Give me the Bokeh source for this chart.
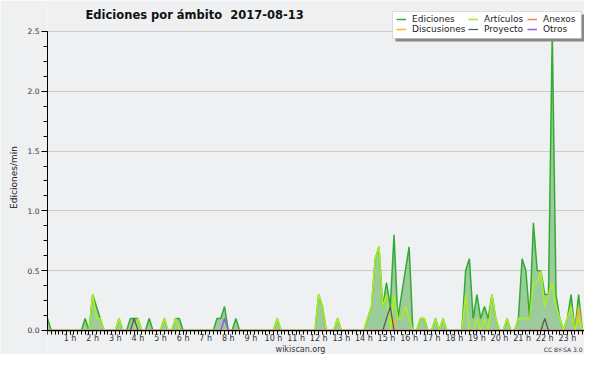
from bokeh.plotting import figure
from bokeh.models import (Range1d, FixedTicker, Legend, LegendItem, Label,
                          PrintfTickFormatter, BoxAnnotation)
from bokeh.embed import file_html
from bokeh.resources import INLINE

# ---- data (edits per minute, 10-minute bins, 2017-08-13) ----
hours = list(range(24))
hour_labels = ["", "1 h", "2 h", "3 h", "4 h", "5 h", "6 h", "7 h", "8 h", "9 h",
               "10 h", "11 h", "12 h", "13 h", "14 h", "15 h", "16 h", "17 h",
               "18 h", "19 h", "20 h", "21 h", "22 h", "23 h"]
y_ticks = [0.0, 0.5, 1.0, 1.5, 2.0, 2.5]

ediciones = [
    0.1, 0, 0, 0, 0, 0,          # 0 h
    0, 0, 0, 0, 0.1, 0,          # 1 h
    0.3, 0.2, 0.1, 0, 0, 0,      # 2 h
    0, 0.1, 0, 0, 0.1, 0.1,      # 3 h
    0.1, 0, 0, 0.1, 0, 0,        # 4 h
    0, 0.1, 0, 0, 0.1, 0.1,      # 5 h
    0, 0, 0, 0, 0, 0,            # 6 h
    0, 0, 0, 0.1, 0.1, 0.2,      # 7 h
    0, 0, 0.1, 0, 0, 0,          # 8 h
    0, 0, 0, 0, 0, 0,            # 9 h
    0, 0.1, 0, 0, 0, 0,          # 10 h
    0, 0, 0, 0, 0, 0,            # 11 h
    0.3, 0.2, 0, 0, 0, 0.1,      # 12 h
    0, 0, 0, 0, 0, 0,            # 13 h
    0, 0.1, 0.2, 0.6, 0.7, 0.2,  # 14 h
    0.4, 0.2, 0.8, 0.1, 0.3, 0.5,  # 15 h
    0.7, 0, 0, 0.1, 0.1, 0,      # 16 h
    0, 0.1, 0, 0.1, 0, 0,        # 17 h
    0, 0, 0, 0.5, 0.6, 0.1,      # 18 h
    0.3, 0.1, 0.2, 0.1, 0.3, 0.1,  # 19 h
    0, 0, 0.1, 0, 0, 0.1,        # 20 h
    0.6, 0.5, 0.1, 0.9, 0.5, 0.5,  # 21 h
    0.3, 0.3, 2.5, 0.3, 0.1, 0,  # 22 h
    0.1, 0.3, 0, 0.3, 0, 0,      # 23 h
]
articulos = [
    0, 0, 0, 0, 0, 0,
    0, 0, 0, 0, 0, 0,
    0.3, 0.1, 0.1, 0, 0, 0,
    0, 0.1, 0, 0, 0, 0,
    0.1, 0, 0, 0, 0, 0,
    0, 0.1, 0, 0, 0.1, 0,
    0, 0, 0, 0, 0, 0,
    0, 0, 0, 0, 0, 0,
    0, 0, 0, 0, 0, 0,
    0, 0, 0, 0, 0, 0,
    0, 0.1, 0, 0, 0, 0,
    0, 0, 0, 0, 0, 0,
    0.3, 0.2, 0, 0, 0, 0.1,
    0, 0, 0, 0, 0, 0,
    0, 0.1, 0.2, 0.6, 0.7, 0.2,
    0.3, 0, 0.3, 0.1, 0.1, 0.2,
    0.1, 0, 0, 0.1, 0.1, 0,
    0, 0.1, 0, 0.1, 0, 0,
    0, 0, 0, 0.3, 0, 0,
    0.1, 0, 0.1, 0, 0.3, 0.1,
    0, 0, 0.1, 0, 0, 0.1,
    0.1, 0.1, 0.1, 0.4, 0.4, 0.5,
    0.2, 0.3, 0.4, 0.2, 0.1, 0,
    0.1, 0.2, 0, 0.1, 0, 0,
]
anexos = [0] * 144
discusiones = [
    0, 0, 0, 0, 0, 0,  0, 0, 0, 0, 0, 0,  0, 0, 0, 0, 0, 0,  0, 0, 0, 0, 0, 0,
    0, 0, 0, 0, 0, 0,  0, 0, 0, 0, 0, 0,  0, 0, 0, 0, 0, 0,  0, 0, 0, 0, 0, 0,
    0, 0, 0, 0, 0, 0,  0, 0, 0, 0, 0, 0,  0, 0, 0, 0, 0, 0,  0, 0, 0, 0, 0, 0,
    0, 0, 0, 0, 0, 0,  0, 0, 0, 0, 0, 0,  0, 0, 0, 0, 0, 0,  0, 0, 0.1, 0, 0, 0,
    0, 0, 0, 0, 0, 0,  0, 0, 0, 0, 0, 0,  0, 0, 0, 0, 0, 0,  0, 0, 0, 0, 0, 0,
    0, 0, 0, 0, 0, 0,  0, 0, 0, 0, 0, 0,  0, 0, 0, 0, 0, 0,  0, 0, 0, 0.2, 0, 0,
]
proyecto = [
    0, 0, 0, 0, 0, 0,  0, 0, 0, 0, 0, 0,  0, 0, 0, 0, 0, 0,  0, 0, 0, 0, 0, 0.1,
    0, 0, 0, 0, 0, 0,  0, 0, 0, 0, 0, 0,  0, 0, 0, 0, 0, 0,  0, 0, 0, 0, 0, 0,
    0, 0, 0, 0, 0, 0,  0, 0, 0, 0, 0, 0,  0, 0, 0, 0, 0, 0,  0, 0, 0, 0, 0, 0,
    0, 0, 0, 0, 0, 0,  0, 0, 0, 0, 0, 0,  0, 0, 0, 0, 0, 0,  0.1, 0.2, 0, 0, 0, 0,
    0, 0, 0, 0, 0, 0,  0, 0, 0, 0, 0, 0,  0, 0, 0, 0, 0, 0,  0, 0, 0, 0, 0, 0,
    0, 0, 0, 0, 0, 0,  0, 0, 0, 0, 0, 0,  0.1, 0, 0, 0, 0, 0,  0, 0, 0, 0, 0, 0,
]
otros = [
    0, 0, 0, 0, 0, 0,  0, 0, 0, 0, 0, 0,  0, 0, 0, 0, 0, 0,  0, 0, 0, 0, 0, 0,
    0, 0, 0, 0, 0, 0,  0, 0, 0, 0, 0, 0,  0, 0, 0, 0, 0, 0,  0, 0, 0, 0, 0, 0.1,
    0, 0, 0, 0, 0, 0,  0, 0, 0, 0, 0, 0,  0, 0, 0, 0, 0, 0,  0, 0, 0, 0, 0, 0,
    0, 0, 0, 0, 0, 0,  0, 0, 0, 0, 0, 0,  0, 0, 0, 0, 0, 0,  0, 0, 0, 0, 0, 0,
    0, 0, 0, 0, 0, 0,  0, 0, 0, 0, 0, 0,  0, 0, 0, 0, 0, 0,  0, 0, 0, 0, 0, 0,
    0, 0, 0, 0, 0, 0,  0, 0, 0, 0, 0, 0,  0, 0, 0, 0, 0, 0,  0, 0, 0, 0, 0, 0,
]
bin_minutes = [10 * i for i in range(144)]
t = [m / 60 for m in bin_minutes]

FONT = "DejaVu Sans"
BG = "#eff0f1"

# frame fills the canvas vertically; y=2.5 sits at 31px and y=0 at 330px
W, H = 584, 354
p = figure(width=W, height=H, output_backend="svg", toolbar_location=None,
           tools="", title=None,
           x_range=Range1d(0, 23.76), y_range=Range1d(-0.2007, 2.7592),
           min_border_left=47, min_border_right=0, min_border_top=0,
           min_border_bottom=0,
           background_fill_color=BG, border_fill_color=BG)
p.outline_line_color = None

# area + lines
p.varea(x=t, y1=[0] * len(t), y2=ediciones, fill_color="#9ccc9c", fill_alpha=1.0)
r_ed = p.line(t, ediciones, line_color="#33aa33", line_width=1.5)
r_an = p.line(t, anexos, line_color="#f08050", line_width=1.5)
r_di = p.line(t, discusiones, line_color="#f2b82a", line_width=1.5)
r_ar = p.line(t, articulos, line_color="#aaee22", line_width=1.5)
r_pr = p.line(t, proyecto, line_color="#555555", line_width=1.2)
r_ot = p.line(t, otros, line_color="#9955ee", line_width=1.5)

# axes
p.xgrid.visible = False
p.ygrid.grid_line_color = "#cccccc"
p.xaxis.fixed_location = 0
p.xaxis.ticker = FixedTicker(ticks=hours, minor_ticks=t)
p.xaxis.major_label_overrides = {h: lab for h, lab in zip(hours, hour_labels)}
p.yaxis.bounds = (0, 2.5)
p.yaxis.ticker = FixedTicker(ticks=y_ticks,
                             minor_ticks=[k * 0.125 for k in range(21)])
p.yaxis.formatter = PrintfTickFormatter(format="%.1f")
for ax in (p.xaxis[0], p.yaxis[0]):
    ax.axis_line_color = "black"
    ax.major_tick_line_color = "black"
    ax.minor_tick_line_color = "black"
    ax.major_tick_in = 0
    ax.minor_tick_in = 0
    ax.major_label_text_font = FONT
    ax.major_label_text_color = "#333333"
p.xaxis.major_tick_out = 4
p.xaxis.minor_tick_out = 4
p.xaxis.major_label_standoff = 0
p.xaxis.major_label_text_font_size = "8px"
p.yaxis.major_tick_out = 6
p.yaxis.minor_tick_out = 4
p.yaxis.major_label_standoff = 2
p.yaxis.major_label_text_font_size = "7.5px"
p.yaxis.axis_label = "Ediciones/min"
p.yaxis.axis_label_text_font = FONT
p.yaxis.axis_label_text_font_size = "9px"
p.yaxis.axis_label_text_font_style = "normal"
p.yaxis.axis_label_text_color = "#222222"
p.yaxis.axis_label_standoff = 6

# texts (screen units measured from the frame's bottom-left corner)
p.add_layout(Label(x=38, y=H - 14, x_units="screen", y_units="screen",
                   text="Ediciones por ámbito\u00a0 2017-08-13", text_font=FONT,
                   text_font_style="bold", text_font_size="11.5px",
                   text_baseline="middle", text_color="#111111"))
p.add_layout(Label(x=253, y=5, x_units="screen", y_units="screen",
                   text="wikiscan.org", text_font=FONT, text_font_size="8px",
                   text_align="center", text_baseline="middle",
                   text_color="#333333"))
p.add_layout(Label(x=535, y=5, x_units="screen", y_units="screen",
                   text="CC BY-SA 3.0", text_font=FONT, text_font_size="6px",
                   text_align="right", text_baseline="middle",
                   text_color="#333333"))

# legend: shadow box, white box, then three two-row columns
BL, BR, BT, BB = 345, 534, H - 11, H - 38
p.add_layout(BoxAnnotation(left=BL + 3, right=BR + 3, top=BT - 3, bottom=BB - 3,
                           left_units="screen", right_units="screen",
                           top_units="screen", bottom_units="screen",
                           fill_color="#888888", fill_alpha=1, line_alpha=0))
p.add_layout(BoxAnnotation(left=BL, right=BR, top=BT, bottom=BB,
                           left_units="screen", right_units="screen",
                           top_units="screen", bottom_units="screen",
                           fill_color="white", fill_alpha=1,
                           line_color="#999999", line_width=1))

legend_columns = [
    (["Ediciones", "Discusiones"], [r_ed, r_di]),
    (["Artículos", "Proyecto"], [r_ar, r_pr]),
    (["Anexos", "Otros"], [r_an, r_ot]),
]
col_x = [349, 421, 480]
for (labs, rs), cx in zip(legend_columns, col_x):
    lg = Legend(items=[LegendItem(label=l, renderers=[r]) for l, r in zip(labs, rs)],
                location=(cx, H - 34), orientation="vertical",
                glyph_width=10, glyph_height=10, label_height=10,
                label_standoff=6, spacing=0, padding=0, margin=0,
                label_text_font=FONT, label_text_font_size="9px",
                label_text_color="#222222",
                background_fill_alpha=0, border_line_alpha=0)
    p.add_layout(lg, "center")

open("out.html", "w").write(file_html(p, INLINE))
